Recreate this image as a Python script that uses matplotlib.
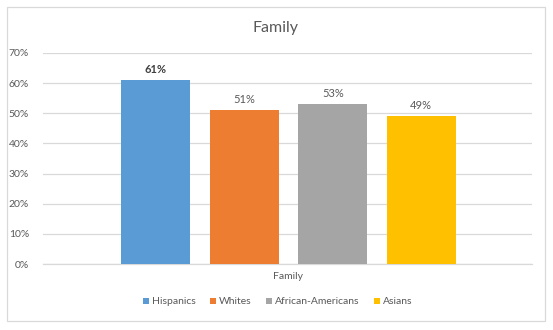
import matplotlib
matplotlib.use("Agg")
from matplotlib import pyplot as plt
from matplotlib.patches import Rectangle
from matplotlib.ticker import PercentFormatter

plt.rcParams['font.family'] = ['Lato', 'DejaVu Sans']

groups = ['Hispanics', 'Whites', 'African-Americans', 'Asians']
values = [0.61, 0.51, 0.53, 0.49]
colors = ['#5B9BD5', '#ED7D31', '#A5A5A5', '#FFC000']
category = 'Family'
yticks = [0, 0.1, 0.2, 0.3, 0.4, 0.5, 0.6, 0.7]

text_color = '#595959'
grid_color = '#D9D9D9'

fig = plt.figure(figsize=(5.53, 3.30), dpi=100)
ax = fig.add_axes([43 / 553, 1 - 264 / 330, (532 - 43) / 553, (264 - 53) / 330])

# grouped bars inside the single category
bar_w = 0.141
step = 0.181
for i, (g, v, c) in enumerate(zip(groups, values, colors)):
    x = (i - 1.5) * step + 0.002
    ax.bar(x, v, width=bar_w, color=c, label=g, zorder=3)
    ax.text(x, v + 0.018, f'{round(v * 100)}%', ha='center', va='bottom',
            fontsize=8, color='#404040' if i == 0 else text_color,
            fontweight='bold' if i == 0 else 'normal')

ax.set_xlim(-0.5, 0.5)
ax.set_ylim(0, 0.7)
ax.set_yticks(yticks)
ax.yaxis.set_major_formatter(PercentFormatter(1.0, decimals=0))
ax.set_xticks([0])
ax.set_xticklabels([category])
ax.tick_params(axis='both', length=0, labelsize=7.5, labelcolor=text_color)
ax.tick_params(axis='y', pad=10)
ax.tick_params(axis='x', pad=6)
ax.grid(axis='y', color=grid_color, linewidth=0.9, zorder=0)
for s in ['top', 'right', 'left']:
    ax.spines[s].set_visible(False)
ax.spines['bottom'].set_color(grid_color)
ax.spines['bottom'].set_linewidth(0.9)

fig.text(276 / 553, 1 - 28 / 330, 'Family', ha='center', va='center',
         fontsize=11.5, color=text_color)

leg = fig.legend(loc='center', bbox_to_anchor=(278 / 553, 1 - 302 / 330),
                 ncol=4, frameon=False, fontsize=7.5, handlelength=0.55,
                 handleheight=0.55, handletextpad=0.3, columnspacing=1.4)
for t in leg.get_texts():
    t.set_color(text_color)

# chart frame
fig.patches.append(Rectangle((7 / 553, 1 - 321 / 330), (545 - 7) / 553, (321 - 7) / 330,
                             transform=fig.transFigure, fill=False,
                             edgecolor=grid_color, linewidth=0.9))

fig.savefig('out.png', dpi=100)
